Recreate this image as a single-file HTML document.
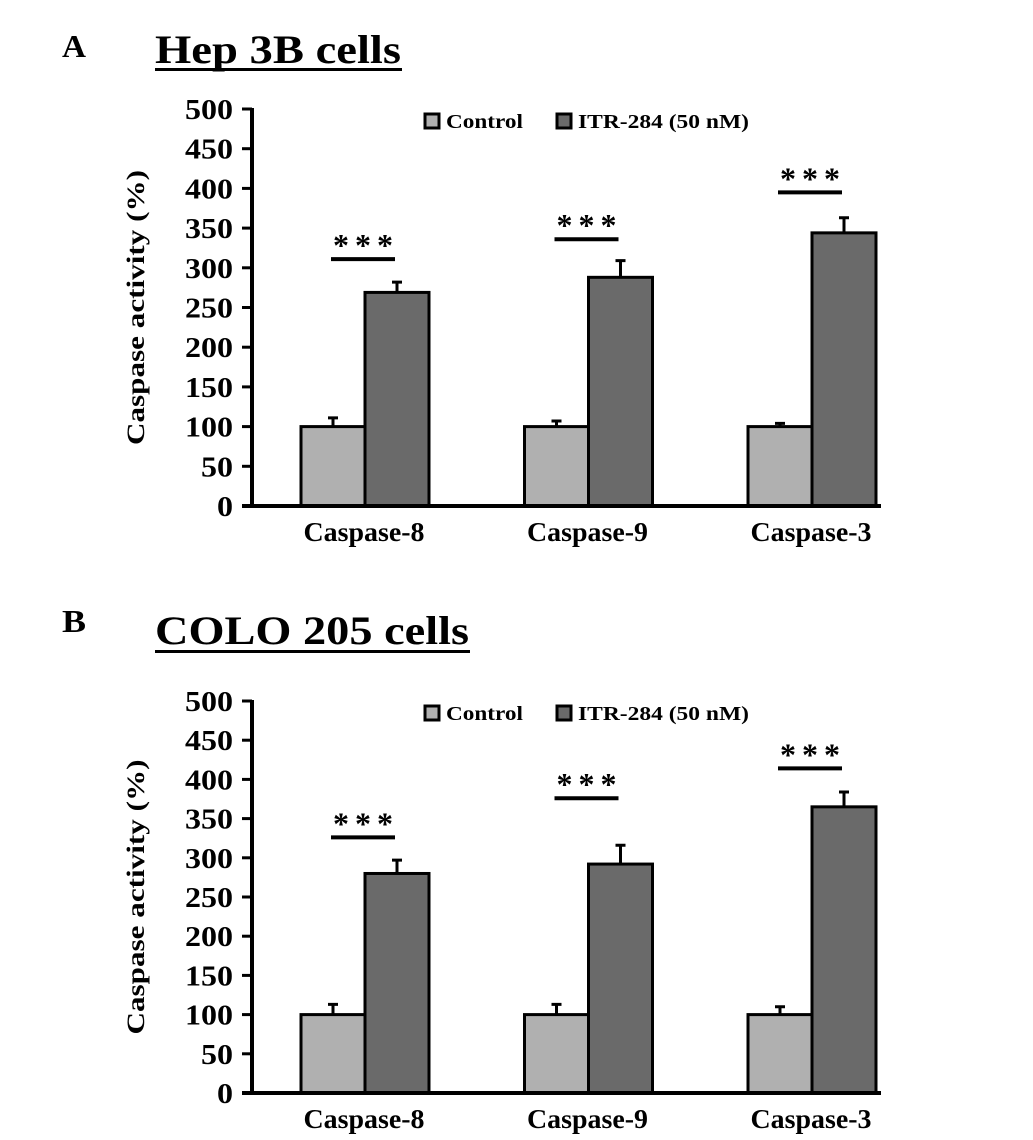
<!DOCTYPE html>
<html><head><meta charset="utf-8"><style>
body{margin:0;background:#fff;}
svg text{font-family:"Liberation Serif",serif;font-weight:bold;fill:#000;}
</style></head><body>
<svg id="fig" width="1033" height="1135" xmlns="http://www.w3.org/2000/svg">
<text x="62" y="57" font-size="32" textLength="24" lengthAdjust="spacingAndGlyphs">A</text>
<text x="155" y="63" font-size="40" textLength="246" lengthAdjust="spacingAndGlyphs">Hep 3B cells</text>
<rect x="155" y="68" width="247" height="3" fill="#000"/>
<text x="62" y="632" font-size="32" textLength="24" lengthAdjust="spacingAndGlyphs">B</text>
<text x="155" y="644" font-size="40" textLength="314" lengthAdjust="spacingAndGlyphs">COLO 205 cells</text>
<rect x="155" y="650" width="315" height="3" fill="#000"/>
<g id="chartA"></g>
<g id="chartB"></g>
</svg>
<script>
const categories = ["Caspase-8","Caspase-9","Caspase-3"];
const yTicks = [0,50,100,150,200,250,300,350,400,450,500];
const hepControl = [100,100,100];
const hepControlErr = [11,7,4];
const hepTreated = [269,288,344];
const hepTreatedErr = [13,21,19];
const hepSigLevel = [311,336,395];
const coloControl = [100,100,100];
const coloControlErr = [13,13,10];
const coloTreated = [280,292,365];
const coloTreatedErr = [17,24,19];
const coloSigLevel = [326,376,414];
const legendLabels = ["Control","ITR-284 (50 nM)"];

const NS="http://www.w3.org/2000/svg";
function mk(parent,tag,attrs){const e=document.createElementNS(NS,tag);for(const k in attrs)e.setAttribute(k,attrs[k]);parent.appendChild(e);return e;}

function drawChart(g,y0,y500,ctrl,ctrlErr,trt,trtErr,sig){
  const axX=252;
  const y=v=>y0-(y0-y500)*v/500;
  const groupX=i=>365+i*223.5;
  const bw=64;
  const t=mk(g,'text',{x:0,y:0,'font-size':25,'text-anchor':'middle',textLength:275,lengthAdjust:'spacingAndGlyphs',transform:`translate(144,${(y0+y500)/2}) rotate(-90)`});
  t.textContent="Caspase activity (%)";
  
  
  yTicks.forEach(v=>{
    const l=mk(g,'line',{x1:axX-10,x2:axX,y1:y(v),y2:y(v),stroke:'#000','stroke-width':3});
    
    
    const s=String(v);
    const tx=mk(g,'text',{x:233,y:y(v)+10,'font-size':28,'text-anchor':'end',textLength:16*s.length,lengthAdjust:'spacingAndGlyphs'});
    tx.textContent=s;
    
    
  });
  categories.forEach((c,i)=>{
    const cx=groupX(i);
    [[cx-bw/2,ctrl[i],ctrlErr[i]],[cx+bw/2,trt[i],trtErr[i]]].forEach(([x,v,e])=>{
      const eb=mk(g,'path',{d:`M${x} ${y(v)} V${y(v+e)} M${x-5} ${y(v+e)} H${x+5}`,stroke:'#000','stroke-width':3,fill:'none'});
      
      
    });
    const b1=mk(g,'rect',{x:cx-bw,y:y(ctrl[i]),width:bw,height:y(0)-y(ctrl[i]),fill:'#b0b0b0',stroke:'#000','stroke-width':3});
    
    
    const b2=mk(g,'rect',{x:cx,y:y(trt[i]),width:bw,height:y(0)-y(trt[i]),fill:'#6a6a6a',stroke:'#000','stroke-width':3});
    
    
    const sl=mk(g,'line',{x1:cx-34,x2:cx+30,y1:y(sig[i]),y2:y(sig[i]),stroke:'#000','stroke-width':4});
    
    
    const st=mk(g,'text',{x:cx-32,y:y(sig[i])-3,'font-size':32,textLength:60,lengthAdjust:'spacing'});
    st.textContent="***";
    
    
    const xl=mk(g,'text',{x:cx-1,y:y0+35,'font-size':27,'text-anchor':'middle',textLength:121,lengthAdjust:'spacingAndGlyphs'});
    xl.textContent=c;
    
    
  });
  const ya=mk(g,'line',{x1:axX,x2:axX,y1:y(500)-1,y2:y(0)+1.5,stroke:'#000','stroke-width':4});
  
  
  const xa=mk(g,'line',{x1:axX-10,x2:881,y1:y(0),y2:y(0),stroke:'#000','stroke-width':4});
  
  
  const ly=y500+12;
  [[425,'#b0b0b0',legendLabels[0],77],[557,'#6a6a6a',legendLabels[1],171]].forEach(([x,col,lab,w])=>{
    const r=mk(g,'rect',{x:x,y:ly-7,width:14,height:14,fill:col,stroke:'#000','stroke-width':3});
    
    
    const tl=mk(g,'text',{x:x+21,y:ly+7,'font-size':20,textLength:w,lengthAdjust:'spacingAndGlyphs'});
    tl.textContent=lab;
    
    
  });
}
drawChart(document.getElementById('chartA'),506,109,hepControl,hepControlErr,hepTreated,hepTreatedErr,hepSigLevel);
drawChart(document.getElementById('chartB'),1093,701,coloControl,coloControlErr,coloTreated,coloTreatedErr,coloSigLevel);
</script>
</body></html>
